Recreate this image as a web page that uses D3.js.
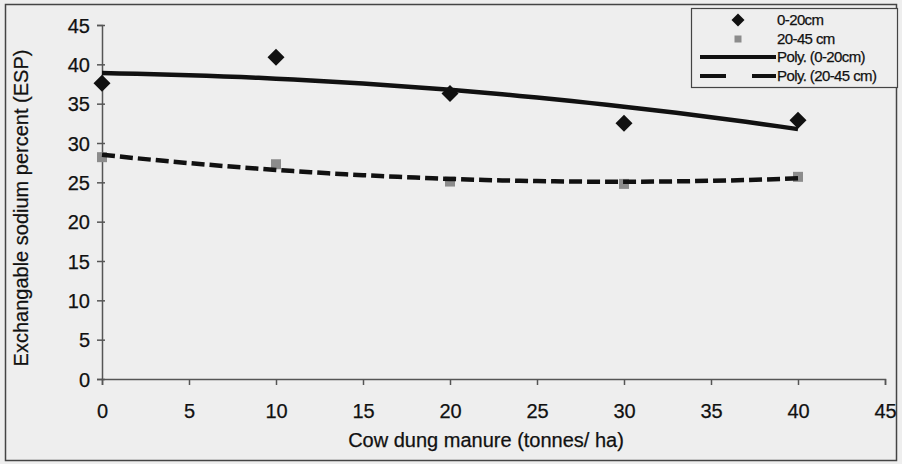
<!DOCTYPE html>
<html>
<head>
<meta charset="utf-8">
<script src="https://cdn.jsdelivr.net/npm/d3@7/dist/d3.min.js"></script>
<style>
  html, body { margin: 0; padding: 0; background: #eeeeee; }
  svg { display: block; }
  text { font-family: "Liberation Sans", Arial, sans-serif; fill: #111; stroke: #111; stroke-width: 0.25px; }
</style>
</head>
<body>
<svg id="chart" width="902" height="464"></svg>
<script>
// Cow dung manure rates (tonnes/ha)
const manure = [0, 10, 20, 30, 40];
// Exchangeable sodium percent at two soil depths
const esp0to20 = [37.6, 40.9, 36.3, 32.5, 32.9];
const esp20to45 = [28.2, 27.3, 25.1, 24.8, 25.7];
// Axis ticks
const xTicks = [0, 5, 10, 15, 20, 25, 30, 35, 40, 45];
const yTicks = [0, 5, 10, 15, 20, 25, 30, 35, 40, 45];
const seriesNames = ["0-20cm", "20-45 cm", "Poly. (0-20cm)", "Poly. (20-45 cm)"];

const svg = d3.select("#chart");
const W = 902, H = 464;
const plot = { left: 102, right: 885, top: 25, bottom: 379 };

const x = d3.scaleLinear().domain([0, 45]).range([plot.left, plot.right]);
const y = d3.scaleLinear().domain([0, 45]).range([plot.bottom, plot.top]);

// Outer frame
svg.append("rect")
  .attr("x", 5.5).attr("y", 4.5).attr("width", W - 11).attr("height", H - 8)
  .attr("fill", "#eeeeee").attr("stroke", "#444").attr("stroke-width", 1.5);

// Least-squares quadratic fit (Excel "Poly." order 2 trendline)
function polyFit2(xs, ys) {
  const n = xs.length;
  const s = [0, 0, 0, 0, 0], t = [0, 0, 0];
  for (let i = 0; i < n; i++) {
    let p = 1;
    for (let k = 0; k < 5; k++) { s[k] += p; if (k < 3) t[k] += p * ys[i]; p *= xs[i]; }
  }
  const A = [[s[0], s[1], s[2]], [s[1], s[2], s[3]], [s[2], s[3], s[4]]];
  const det = m => m[0][0]*(m[1][1]*m[2][2]-m[1][2]*m[2][1]) - m[0][1]*(m[1][0]*m[2][2]-m[1][2]*m[2][0]) + m[0][2]*(m[1][0]*m[2][1]-m[1][1]*m[2][0]);
  const D = det(A);
  const coef = [0, 1, 2].map(c => det(A.map((row, r) => row.map((v, j) => j === c ? t[r] : v))) / D);
  return xv => coef[0] + coef[1] * xv + coef[2] * xv * xv;
}

// Axes
const yAxis = d3.axisLeft(y).tickValues(yTicks).tickSize(5).tickPadding(8);
const gy = svg.append("g").attr("transform", `translate(${plot.left},0)`).call(yAxis);
gy.select(".domain").attr("stroke", "#555").attr("stroke-width", 1.5);
gy.selectAll(".tick line").attr("stroke", "#555").attr("stroke-width", 1.5).attr("x2", -5).attr("x1", 3);
gy.selectAll(".tick text").attr("font-size", 20).attr("x", -12).attr("dy", "0.35em");

const xAxis = d3.axisBottom(x).tickValues(xTicks).tickSize(6).tickPadding(18);
const gx = svg.append("g").attr("transform", `translate(0,${plot.bottom})`).call(xAxis);
gx.select(".domain").attr("stroke", "#555").attr("stroke-width", 1.5);
gx.selectAll(".tick line").attr("stroke", "#555").attr("stroke-width", 1.5);
gx.selectAll(".tick text").attr("font-size", 20).attr("y", 39).attr("dy", 0);
svg.selectAll(".tick text").attr("fill", "#111");

// Axis titles
svg.append("text")
  .attr("x", 486).attr("y", 447).attr("text-anchor", "middle").attr("font-size", 20)
  .text("Cow dung manure (tonnes/ ha)");
svg.append("text")
  .attr("transform", "translate(28,208) rotate(-90)")
  .attr("text-anchor", "middle").attr("font-size", 20)
  .text("Exchangable sodium percent (ESP)");

// Trendlines evaluated across the measured range
const fitTop = polyFit2(manure, esp0to20);
const fitSub = polyFit2(manure, esp20to45);
const xs = d3.range(0, 40.01, 1);
const line = d3.line().x(d => x(d[0])).y(d => y(d[1]));

// Markers (drawn beneath the trendlines)
const diamond = (cx, cy, r) => `M${cx},${cy - r}L${cx + r},${cy}L${cx},${cy + r}L${cx - r},${cy}Z`;
svg.append("g").selectAll("rect").data(manure).join("rect")
  .attr("x", d => x(d) - 5).attr("y", (d, i) => y(esp20to45[i]) - 5)
  .attr("width", 10).attr("height", 10).attr("fill", "#8c8c8c");
svg.append("g").selectAll("path").data(manure).join("path")
  .attr("d", (d, i) => diamond(x(d), y(esp0to20[i]), 8.5)).attr("fill", "#111");

svg.append("path").datum(xs.map(v => [v, fitTop(v)])).attr("d", line)
  .attr("fill", "none").attr("stroke", "#111").attr("stroke-width", 4.5);
svg.append("path").datum(xs.map(v => [v, fitSub(v)])).attr("d", line)
  .attr("fill", "none").attr("stroke", "#111").attr("stroke-width", 4.5)
  .attr("stroke-dasharray", "13 5");

// Legend
const lg = svg.append("g");
lg.append("rect").attr("x", 691.5).attr("y", 8.5).attr("width", 206).attr("height", 79)
  .attr("fill", "#eeeeee").attr("stroke", "#444").attr("stroke-width", 1.2);
const rows = [20, 39, 57, 76];
lg.append("path").attr("d", diamond(738, rows[0], 6.5)).attr("fill", "#111");
lg.append("rect").attr("x", 734.5).attr("y", rows[1] - 3.5).attr("width", 7).attr("height", 7).attr("fill", "#8c8c8c");
lg.append("line").attr("x1", 700).attr("x2", 776).attr("y1", rows[2]).attr("y2", rows[2])
  .attr("stroke", "#111").attr("stroke-width", 4);
lg.append("line").attr("x1", 700).attr("x2", 776).attr("y1", rows[3]).attr("y2", rows[3])
  .attr("stroke", "#111").attr("stroke-width", 4).attr("stroke-dasharray", "26 26 24");
lg.selectAll("text.lab").data(seriesNames).join("text").attr("class", "lab")
  .attr("x", 777).attr("y", (d, i) => rows[i]).attr("dy", "0.35em")
  .attr("font-size", 15).attr("letter-spacing", -0.6).text(d => d);
</script>
</body>
</html>
